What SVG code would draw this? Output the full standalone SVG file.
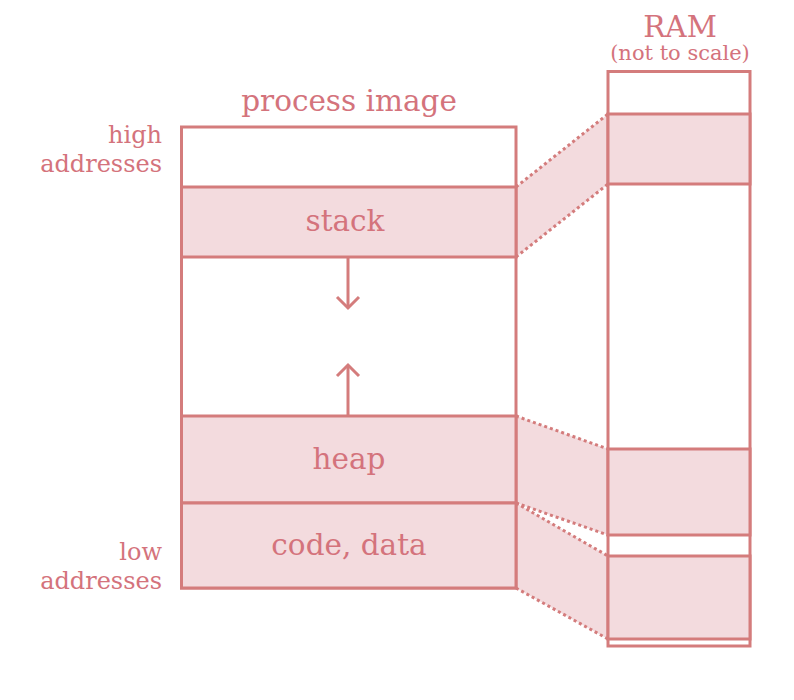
<svg xmlns="http://www.w3.org/2000/svg" width="794" height="700" viewBox="0 0 794 700">
<style>
.box{fill:none;stroke:#d47c7c;stroke-width:3}
.seg{fill:#f3dbde;stroke:#d47c7c;stroke-width:3}
.band{fill:#f3dbde;stroke:none}
.dot{fill:none;stroke:#d47c7c;stroke-width:3;stroke-dasharray:3 3}
.arr{fill:none;stroke:#d47c7c;stroke-width:3}
text{font-family:"DejaVu Serif",serif;fill:#d4737c}
.big{font-size:29.5px;text-anchor:middle}
.sm{font-size:24px;text-anchor:end}
</style>
<rect width="794" height="700" fill="#fff"/>
<g id="connectors">
<polygon class="band" points="516,187 608,114 608,184 516,257"/>
<polygon class="band" points="516,416 608,449 608,535 516,503"/>
<polygon class="band" points="516,503 608,556 608,639 516,588"/>
<line class="dot" x1="516" y1="187" x2="608" y2="114"/>
<line class="dot" x1="516" y1="257" x2="608" y2="184"/>
<line class="dot" x1="516" y1="416" x2="608" y2="449"/>
<line class="dot" x1="516" y1="503" x2="608" y2="535"/>
<line class="dot" x1="516" y1="503" x2="608" y2="556"/>
<line class="dot" x1="516" y1="588" x2="608" y2="639"/>
</g>
<g id="process">
<text class="big" x="349" y="111">process image</text>
<rect class="box" x="181.5" y="127" width="334.5" height="461"/>
</g>
<g id="stack">
<rect class="seg" x="181.5" y="187" width="334.5" height="70"/>
<text class="big" x="345" y="231">stack</text>
<polyline class="arr" points="348,257 348,308"/>
<polyline class="arr" points="337,297 348,308 359,297"/>
</g>
<g id="heap">
<rect class="seg" x="181.5" y="416" width="334.5" height="87"/>
<text class="big" x="349" y="469">heap</text>
<polyline class="arr" points="348,416 348,365"/>
<polyline class="arr" points="337,376 348,365 359,376"/>
</g>
<g id="code">
<rect class="seg" x="181.5" y="503" width="334.5" height="85"/>
<text class="big" x="349" y="555">code, data</text>
</g>
<g id="labels">
<text class="sm" x="162" y="143">high</text>
<text class="sm" x="162" y="172">addresses</text>
<text class="sm" x="162" y="560">low</text>
<text class="sm" x="162" y="589">addresses</text>
</g>
<g id="ram">
<text class="big" x="680" y="37">RAM</text>
<text x="680" y="60" style="font-size:21px;text-anchor:middle">(not to scale)</text>
<rect class="box" x="608" y="71.5" width="142" height="574.5"/>
<rect class="seg" x="608" y="114" width="142" height="70"/>
<rect class="seg" x="608" y="449" width="142" height="86"/>
<rect class="seg" x="608" y="556" width="142" height="83"/>
</g>
</svg>
